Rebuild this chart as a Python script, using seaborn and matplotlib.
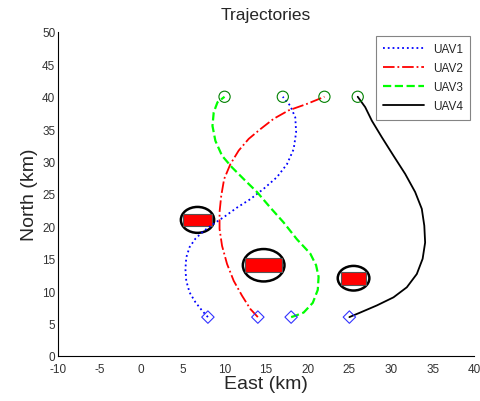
import numpy as np
import pandas as pd
import matplotlib
matplotlib.use("Agg")
import matplotlib.pyplot as plt
import seaborn as sns
from matplotlib.patches import Circle, Rectangle

# waypoints (km)
uav1_x = [8.0, 7.3, 6.5, 5.8, 5.4, 5.3, 5.4, 5.8, 6.5, 7.5, 8.7, 10.1, 11.5, 13.1,
          14.7, 16.3, 17.5, 18.3, 18.6, 18.5, 17.9, 17.0]
uav1_y = [6.0, 7.0, 8.3, 9.8, 11.6, 13.4, 15.2, 16.8, 18.1, 19.3, 20.4, 21.6, 22.9, 24.2,
          25.8, 27.6, 29.6, 31.9, 34.5, 36.8, 38.6, 40.0]
uav2_x = [14.0, 13.1, 12.1, 11.1, 10.3, 9.7, 9.4, 9.4, 9.6, 9.95, 10.7, 11.7, 12.9,
          14.3, 15.9, 17.7, 19.9, 22.0]
uav2_y = [6.0, 7.25, 9.3, 11.6, 14.2, 17.0, 19.6, 22.2, 24.7, 27.3, 29.6, 31.7, 33.5,
          35.0, 36.6, 37.9, 38.9, 40.0]
uav3_x = [18.0, 18.5, 19.5, 20.6, 21.2, 21.3, 21.0, 20.3, 18.7, 17.1, 15.5, 13.9, 12.3,
          10.9, 9.7, 8.9, 8.55, 8.7, 9.15, 10.0]
uav3_y = [6.0, 6.2, 6.7, 8.2, 10.2, 12.2, 14.0, 15.8, 18.0, 20.6, 22.9, 25.3, 27.3,
          29.1, 30.9, 33.2, 35.5, 37.6, 39.15, 40.0]
uav4_x = [25.0, 26.3, 28.3, 30.3, 31.9, 33.1, 33.8, 34.1, 34.0, 33.7, 32.9, 31.7, 30.3,
          28.9, 27.7, 26.9, 26.0]
uav4_y = [6.0, 6.7, 7.8, 9.05, 10.6, 12.65, 15.0, 17.5, 20.1, 22.7, 25.3, 28.1, 30.9,
          33.75, 36.3, 38.4, 40.0]

start_x = [8, 14, 18, 25]
start_y = [6, 6, 6, 6]
goal_x = [10, 17, 22, 26]
goal_y = [40, 40, 40, 40]

# obstacles: centre x, centre y, radius, rectangle width, rectangle height
obs_x = [6.75, 14.7, 25.5]
obs_y = [21.0, 14.0, 12.0]
obs_r = [2.0, 2.5, 1.9]
rect_w = [3.5, 4.4, 3.0]
rect_h = [1.8, 2.1, 2.0]

names = ["UAV1", "UAV2", "UAV3", "UAV4"]
paths = [(uav1_x, uav1_y), (uav2_x, uav2_y), (uav3_x, uav3_y), (uav4_x, uav4_y)]
colors = ["#0000ff", "#ff0000", "#00ff00", "#000000"]
styles = [":", "-.", "--", "-"]
widths = [1.3, 1.3, 1.6, 1.3]

sns.set_style("white")
plt.rcParams["font.family"] = ["Liberation Sans", "DejaVu Sans"]
plt.rcParams["axes.unicode_minus"] = False

fig = plt.figure(figsize=(4.8, 4.02), dpi=100)
ax = fig.add_axes([0.121, 0.112, 0.867, 0.806])

for (cx, cy, r, w, h) in zip(obs_x, obs_y, obs_r, rect_w, rect_h):
    ax.add_patch(Circle((cx, cy), r, fill=False, edgecolor="black", lw=1.8, zorder=2))
    ax.add_patch(Rectangle((cx - w / 2, cy - h / 2), w, h, facecolor="red",
                           edgecolor="#555555", lw=0.8, zorder=2))

for name, (px, py), c, ls, lw in zip(names, paths, colors, styles, widths):
    df = pd.DataFrame({"x": px, "y": py})
    sns.lineplot(data=df, x="x", y="y", sort=False, estimator=None, color=c,
                 linestyle=ls, linewidth=lw, label=name, ax=ax, zorder=3)

sns.scatterplot(x=start_x, y=start_y, marker="D", s=40, facecolor="none",
                edgecolor="#3333ff", linewidth=0.8, ax=ax, zorder=4)
sns.scatterplot(x=goal_x, y=goal_y, marker="o", s=65, facecolor="none",
                edgecolor="#008000", linewidth=0.8, ax=ax, zorder=4)

ax.set_xlim(-10, 40)
ax.set_ylim(0, 50)
ax.set_xticks(range(-10, 41, 5))
ax.set_yticks(range(0, 51, 5))
ax.tick_params(direction="in", length=4, width=0.8, labelsize=8.5,
               labelcolor="#333333", pad=2)
ax.tick_params(axis="x", pad=5)
for s in ["top", "right"]:
    ax.spines[s].set_visible(False)
for s in ["left", "bottom"]:
    ax.spines[s].set_color("black")
    ax.spines[s].set_linewidth(0.8)

ax.set_title("Trajectories", fontsize=12.5, pad=9)
ax.set_xlabel("East (km)", fontsize=14, labelpad=0)
ax.set_ylabel("North (km)", fontsize=14, labelpad=3)

leg = ax.legend(loc="upper right", fontsize=8.5, frameon=True, fancybox=False,
                borderaxespad=0.35, handlelength=3.4, labelspacing=0.6,
                borderpad=0.6)
leg.get_frame().set_edgecolor("#666666")
leg.get_frame().set_linewidth(0.8)

fig.savefig("out.png", dpi=100)
